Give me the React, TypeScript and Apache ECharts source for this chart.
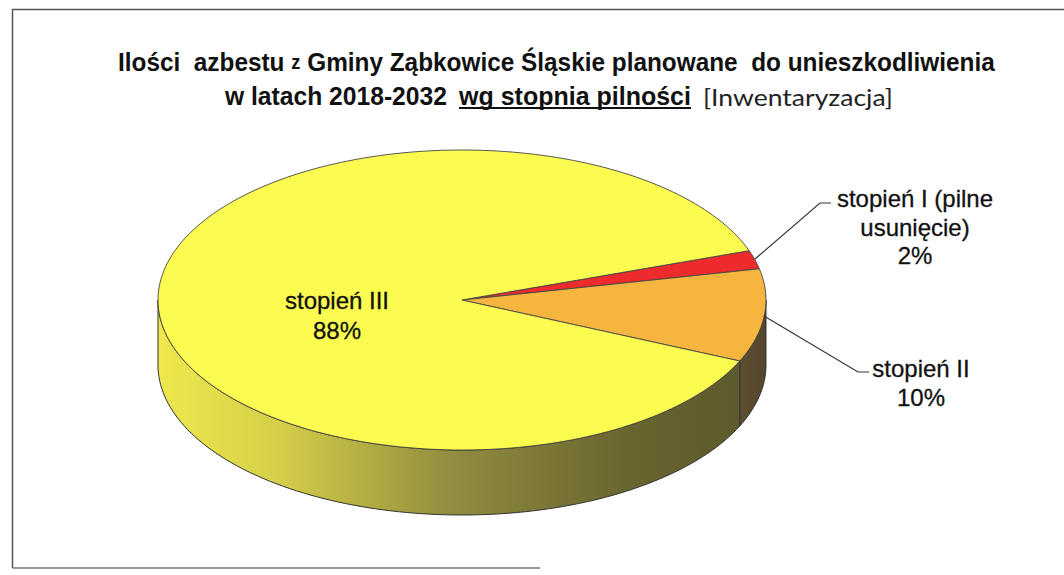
import React, { useEffect, useRef } from "react";
import * as echarts from "echarts";

// ---- data ----
const CATEGORIES = ["stopień I (pilne usunięcie)", "stopień II", "stopień III"];
const LABEL_LINES = [["stopień I (pilne", "usunięcie)"], ["stopień II"], ["stopień III"]];
const VALUES = [2, 10, 88];
const TITLE_LINE1 = ["Ilości  azbestu ", "z", " Gminy Ząbkowice Śląskie planowane  do unieszkodliwienia"];
const TITLE_LINE2 = ["w latach 2018-2032", "wg stopnia pilności", "[Inwentaryzacja]"];

// ---- styles / layout ----
const TOP_COLORS = ["#ee2b2c", "#f6b53e", "#fcfc50"];
const SIDE_COLORS = [
  [[0, "#8a1c1c"], [1, "#6a1414"]],
  [[0, "#5e4f32"], [1, "#54462c"]],
  [[0, "#eee84c"], [0.2, "#d6d049"], [0.5, "#928d3f"], [0.8, "#6a6630"], [1, "#5d5a2c"]],
];
const CX = 462;
const CY = 300;
const RX = 304;
const RY = 150;
const DEPTH = 65;
const START_ANGLE = 19.2; // degrees, slices go clockwise
const LABEL_POS = [
  { x: 915, y: 227, lh: 28.5, line: [[755, 259], [820, 203], [831, 203]] },
  { x: 921, y: 382.5, lh: 29, line: [[764, 316], [858, 372], [869, 372]] },
  { x: 337, y: 315, lh: 30, line: null },
];
const LABEL_FONT = "'Liberation Sans', Arial, sans-serif";
const TITLE_FONT = "'Liberation Sans', Arial, sans-serif";
const TITLE_SIZE = 26;

const rad = (d: number) => (d * Math.PI) / 180;
const pt = (deg: number, dy = 0) => [CX + RX * Math.cos(rad(deg)), CY - RY * Math.sin(rad(deg)) + dy];
const arc = (from: number, to: number, dy: number) => {
  const n = Math.max(2, Math.ceil(Math.abs(to - from) / 1.5));
  const out: number[][] = [];
  for (let k = 0; k <= n; k++) out.push(pt(from + ((to - from) * k) / n, dy));
  return out;
};

let measureCtx: CanvasRenderingContext2D | null = null;
function measure(text: string, font: string) {
  if (!measureCtx) measureCtx = document.createElement("canvas").getContext("2d");
  if (!measureCtx) return text.length * 12;
  measureCtx.font = font;
  return measureCtx.measureText(text).width;
}

function renderItem(params: any) {
  const i = params.dataIndex;
  const total = VALUES.reduce((a, b) => a + b, 0);
  let cum = 0;
  for (let j = 0; j < i; j++) cum += VALUES[j];
  const a0 = START_ANGLE - (cum / total) * 360;
  const a1 = a0 - (VALUES[i] / total) * 360;
  const children: any[] = [];

  for (let k = -2; k <= 1; k++) {
    const lo = Math.max(a1, -180 + 360 * k);
    const hi = Math.min(a0, 0 + 360 * k);
    if (hi - lo > 0.01) {
      const pts = [...arc(lo, hi, 0), ...arc(hi, lo, DEPTH)];
      children.push({
        type: "polygon",
        z2: 1,
        shape: { points: pts },
        style: {
          fill: new echarts.graphic.LinearGradient(
            0, 0, 1, 0,
            SIDE_COLORS[i].map((c: any) => ({ offset: c[0], color: c[1] }))
          ),
          stroke: "#333",
          lineWidth: 1,
        },
      });
    }
  }
  children.push({
    type: "polygon",
    z2: 5,
    shape: { points: [[CX, CY], ...arc(a0, a1, 0)] },
    style: { fill: TOP_COLORS[i], stroke: "#444", lineWidth: 0.9 },
  });
  const pct = Math.round((VALUES[i] / total) * 100) + "%";
  const lp = LABEL_POS[i];
  children.push({
    type: "text",
    z2: 20,
    style: {
      text: [...LABEL_LINES[i], pct].join("\n"),
      x: lp.x,
      y: lp.y,
      align: "center",
      verticalAlign: "middle",
      fontFamily: LABEL_FONT,
      fontSize: 24,
      lineHeight: lp.lh,
      fill: "#111",
      stroke: "#111",
      lineWidth: 0.3,
    },
  });
  if (lp.line) {
    children.push({
      type: "polyline",
      z2: 20,
      shape: { points: lp.line },
      style: { stroke: "#333", lineWidth: 1.2, fill: null },
    });
  }
  return { type: "group", children };
}

function fitText(text: string, x: number, y: number, width: number, font: any) {
  const w = measure(text, `${font.fontWeight || "normal"} ${font.fontSize}px ${font.fontFamily}`);
  return {
    type: "text",
    x,
    y,
    scaleX: width / w,
    style: { text, x: 0, y: 0, verticalAlign: "middle", ...font },
  };
}

export default function App() {
  const ref = useRef<HTMLDivElement>(null);
  useEffect(() => {
    if (!ref.current) return;
    const chart = echarts.init(ref.current, null, { renderer: "svg" });
    const bold = { fontFamily: TITLE_FONT, fontWeight: "bold", fontSize: TITLE_SIZE, fill: "#111" };
    const small = TITLE_SIZE * 0.75;
    const w1 =
      measure(TITLE_LINE1[0], `bold ${TITLE_SIZE}px ${TITLE_FONT}`) +
      measure(TITLE_LINE1[1], `bold ${small}px ${TITLE_FONT}`) +
      measure(TITLE_LINE1[2], `bold ${TITLE_SIZE}px ${TITLE_FONT}`);
    chart.setOption({
      animation: false,
      backgroundColor: "#ffffff",
      graphic: [
        {
          type: "polyline",
          shape: { points: [[12.5, 568], [12.5, 9.5], [1064, 9.5]] },
          style: { stroke: "#555", lineWidth: 1.5, fill: null },
        },
        {
          type: "line",
          shape: { x1: 12.5, y1: 568, x2: 540, y2: 568 },
          style: { stroke: "#777", lineWidth: 1.5 },
        },
        {
          type: "text",
          x: 118,
          y: 62,
          scaleX: 877 / w1,
          style: {
            text: `{b|${TITLE_LINE1[0]}}{s|${TITLE_LINE1[1]}}{b|${TITLE_LINE1[2]}}`,
            x: 0,
            y: 0,
            verticalAlign: "middle",
            rich: {
              b: { fontFamily: TITLE_FONT, fontWeight: "bold", fontSize: TITLE_SIZE, fill: "#111" },
              s: { fontFamily: TITLE_FONT, fontWeight: "bold", fontSize: small, fill: "#111" },
            },
          },
        },
        fitText(TITLE_LINE2[0], 225, 96, 222, bold),
        fitText(TITLE_LINE2[1], 459, 96, 232, bold),
        {
          type: "line",
          shape: { x1: 459, y1: 108, x2: 691, y2: 108 },
          style: { stroke: "#111", lineWidth: 2 },
        },
        fitText(TITLE_LINE2[2], 703, 97, 190, {
          fontFamily: "Lato, 'Open Sans', sans-serif",
          fontSize: 24,
          fill: "#222",
        }),
      ],
      series: [
        {
          type: "custom",
          coordinateSystem: "none",
          data: VALUES.map((v, i) => ({ name: CATEGORIES[i], value: v })),
          renderItem,
        },
      ],
    });
    return () => chart.dispose();
  }, []);
  return (
    <div
      ref={ref}
      style={{ position: "fixed", left: 0, top: 0, width: 1064, height: 575, background: "#fff" }}
    />
  );
}
